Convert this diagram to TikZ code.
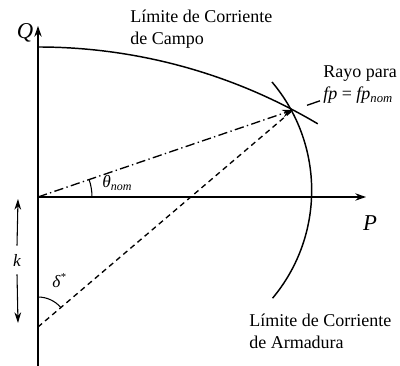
\documentclass[tikz,border=0pt]{standalone}
\usepackage{fontspec}
\setmainfont{Liberation Serif}
\usetikzlibrary{arrows.meta}
\begin{document}
\begin{tikzpicture}[x=0.75pt,y=-0.75pt,
  axis/.style={line width=1.1pt},
  curve/.style={line width=1.1pt},
  thin line/.style={line width=0.8pt},
  dashdot/.style={line width=1pt, dash pattern=on 7pt off 2.5pt on 1pt off 2.5pt},
  dashedline/.style={line width=1pt, dash pattern=on 4pt off 3pt},
  tip/.style={-{Stealth[length=8pt,width=5.5pt]}},
  lbl/.style={font=\fontsize{13.5}{16.5}\selectfont, align=left, inner sep=0pt},
  sym/.style={font=\fontsize{17}{20}\selectfont\itshape, inner sep=0pt},
  small/.style={font=\fontsize{13}{15}\selectfont\itshape, inner sep=0pt}]
\useasboundingbox (0,0) rectangle (400,366);
% key points
\coordinate (O) at (38,197);
\coordinate (Qtop) at (38,26);
\coordinate (Qbot) at (38,366);
\coordinate (Ptip) at (366,197);
\coordinate (X) at (293,110);
\coordinate (K) at (38,327);
\coordinate (R1) at (307,105.3);
\coordinate (R2) at (320,100.8);
\coordinate (ktop) at (18,199);
\coordinate (kbot) at (18,323);
% axes
\draw[axis,tip] (Qbot) -- (Qtop);
\draw[axis,tip] (O) -- (Ptip);
\node[sym] (Q) at (25,33) {Q};
\node[sym] (P) at (370,223) {P};
% field current limit
\draw[curve] (38,47) arc[start angle=-90, end angle=-59.3, radius=548];
% armature current limit
\draw[curve] (272,82) arc[start angle=-40.2, end angle=39.9, radius=168];
% ray
\draw[dashdot,tip] (O) -- (X);
\draw[line width=1pt] (R1) -- (R2);
% dashed line
\draw[dashedline] (K) -- (X);
% angles
\draw[thin line] (92,197) arc[start angle=0, end angle=-18.8, radius=54];
\draw[thin line] (38,297) arc[start angle=-90, end angle=-40.4, radius=30];
\node[small, anchor=west] (theta) at (102,183) {θ\raisebox{-0.35ex}{\fontsize{9}{10}\selectfont nom}};
\node[small] (delta) at (59,281) {δ\raisebox{0.9ex}{\fontsize{8}{9}\selectfont *}};
% k
\node[small] (k) at (17,260) {k};
\draw[thin line,-{Stealth[length=8pt,width=5pt]}] (k.north) ++(0,-8) -- (ktop);
\draw[thin line,-{Stealth[length=8pt,width=5pt]}] (k.south) ++(0,8) -- (kbot);
% labels (base = baseline of last line)
\node[lbl, anchor=base west] (lfield) at (130,45) {Límite de Corriente\\de Campo};
\node[lbl, anchor=base west] (lray) at (323,100) {Rayo para\\\textit{fp} = \textit{fp}\raisebox{-0.35ex}{\fontsize{9.5}{10}\selectfont\itshape nom}};
\node[lbl, anchor=base west] (larm) at (249,349) {Límite de Corriente\\de Armadura};
\end{tikzpicture}
\end{document}
